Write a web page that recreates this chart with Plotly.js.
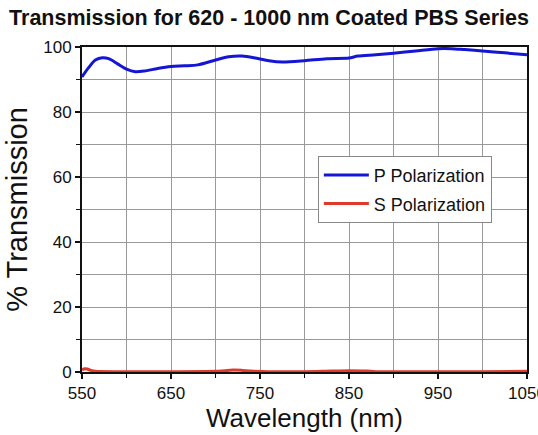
<!DOCTYPE html>
<html>
<head>
<meta charset="utf-8">
<script src="https://cdn.plot.ly/plotly-3.0.1.min.js"></script>
<style>html,body{margin:0;padding:0;background:#fff;}#chart{width:538px;height:435px;}</style>
</head>
<body>
<div id="chart"></div>
<script>
// Wavelength (nm) and % transmission
const pWavelength = [550, 557, 565, 573, 580, 590, 600, 610, 620, 635, 650, 665, 680, 700, 715, 730, 745, 760, 775, 800, 825, 850, 860, 880, 900, 925, 950, 965, 980, 1000, 1025, 1050];
const pTransmission = [90.8, 93.5, 96.0, 96.7, 96.4, 94.8, 93.2, 92.4, 92.6, 93.4, 94.0, 94.2, 94.5, 96.0, 97.0, 97.2, 96.6, 95.8, 95.4, 95.8, 96.4, 96.6, 97.2, 97.6, 98.1, 98.8, 99.5, 99.5, 99.2, 98.8, 98.2, 97.6];
const sWavelength = [550, 553, 556, 560, 565, 600, 650, 700, 710, 720, 730, 740, 760, 800, 830, 850, 870, 880, 950, 1000, 1050];
const sTransmission = [0.6, 1.0, 0.9, 0.5, 0.2, 0.1, 0.1, 0.2, 0.4, 0.6, 0.5, 0.3, 0.1, 0.1, 0.3, 0.4, 0.3, 0.1, 0.1, 0.1, 0.2];
const xTicks = [550, 650, 750, 850, 950, 1050];
const yTicks = [0, 20, 40, 60, 80, 100];

const traces = [
  {x: pWavelength, y: pTransmission, name: 'P Polarization', mode: 'lines', legendgroup: 'p',
   line: {color: '#1515d6', width: 3, shape: 'spline', smoothing: 0.8}},
  {x: sWavelength, y: sTransmission, name: 'S Polarization', mode: 'lines', legendgroup: 's',
   line: {color: '#e03a2a', width: 3, shape: 'spline', smoothing: 0.8}}
];

const layout = {
  width: 538, height: 435,
  margin: {l: 82, r: 11, t: 47, b: 63},
  paper_bgcolor: '#fff', plot_bgcolor: '#fff',
  font: {family: 'Liberation Sans, Arial, sans-serif', color: '#111'},
  title: {text: '<b>Transmission for 620 - 1000 nm Coated PBS Series</b>', font: {size: 21.5, color: '#111'},
          x: 0.5, xanchor: 'center', y: 0.978, yanchor: 'top'},
  showlegend: true,
  legend: {x: 0.53, y: 0.665, xanchor: 'left', yanchor: 'top', bgcolor: '#fff',
           bordercolor: '#888', borderwidth: 1, font: {size: 18, color: '#111'},
           tracegroupgap: 2, itemwidth: 45},
  xaxis: {
    range: [550, 1050], tickvals: xTicks, ticktext: xTicks.map(String), ticklabeloverflow: 'allow',
    ticks: 'outside', ticklen: 5, tickwidth: 1.5, tickcolor: '#111',
    showgrid: true, gridcolor: '#9a9a9a', gridwidth: 1,
    minor: {dtick: 50, tick0: 550, showgrid: true, gridcolor: '#9a9a9a', gridwidth: 1, ticks: 'outside', ticklen: 4, tickcolor: '#111'},
    showline: true, linecolor: '#111', linewidth: 2, mirror: true,
    zeroline: false, tickfont: {size: 17},
    title: {text: 'Wavelength (nm)', font: {size: 26}, standoff: 0}
  },
  yaxis: {
    range: [0, 100], tickvals: yTicks,
    ticks: 'outside', ticklen: 5, tickwidth: 1.5, tickcolor: '#111',
    showgrid: true, gridcolor: '#9a9a9a', gridwidth: 1,
    minor: {dtick: 10, tick0: 0, showgrid: true, gridcolor: '#9a9a9a', gridwidth: 1, ticks: 'outside', ticklen: 4, tickcolor: '#111'},
    showline: true, linecolor: '#111', linewidth: 2, mirror: true,
    zeroline: false, tickfont: {size: 17},
    title: {text: '% Transmission', font: {size: 29}, standoff: 7}
  }
};

Plotly.newPlot('chart', traces, layout, {displayModeBar: false, staticPlot: true});
</script>
</body>
</html>
